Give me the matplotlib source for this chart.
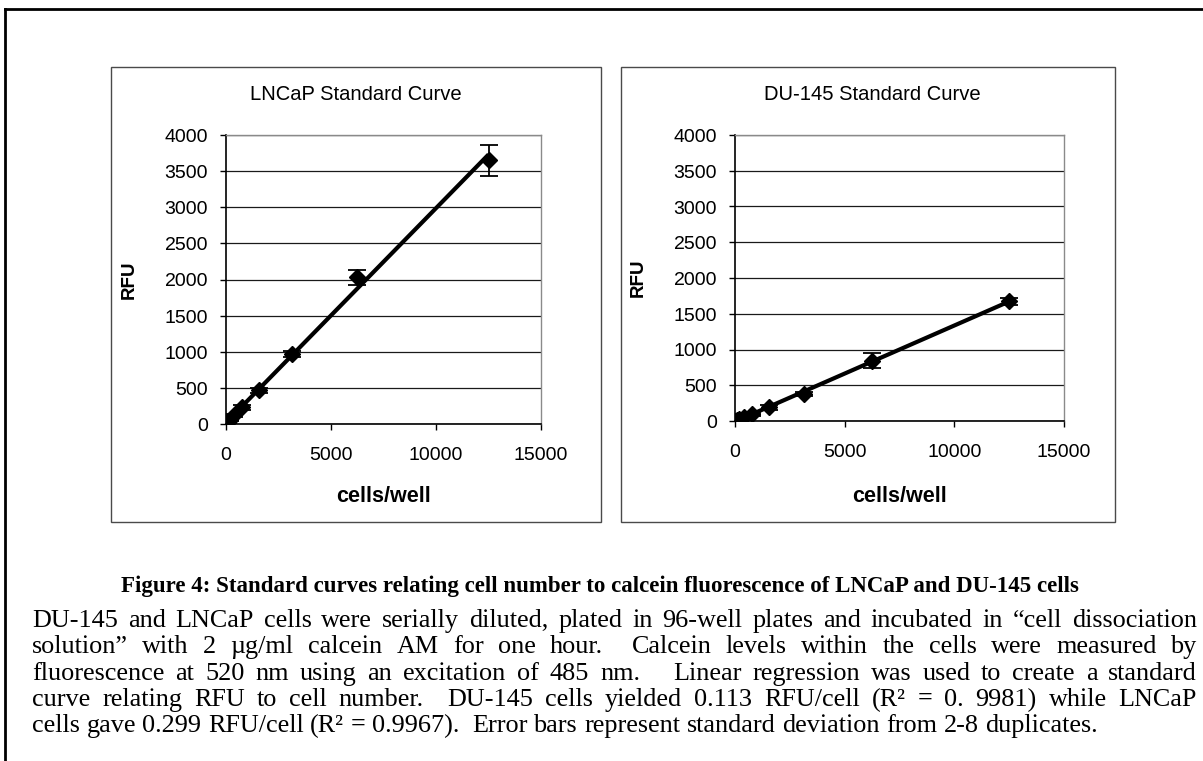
import numpy as np
import matplotlib
matplotlib.use("Agg")
import matplotlib.pyplot as plt
from matplotlib.font_manager import FontProperties
from matplotlib.lines import Line2D
from matplotlib.patches import Rectangle

# TrueType hinting keeps glyph outlines on the pixel grid vertically
plt.rcParams["text.hinting"] = "native"

# ---- data -------------------------------------------------------------
cells_per_well = [0, 98, 195, 391, 781, 1563, 3125, 6250, 12500]

lncap_rfu = [0, 30, 60, 120, 230, 470, 965, 2030, 3650]
lncap_sd = [5, 10, 15, 20, 30, 35, 40, 100, 215]

du145_rfu = [0, 12, 25, 50, 95, 190, 375, 845, 1675]
du145_sd = [5, 8, 10, 15, 20, 30, 30, 105, 50]

y_ticks = [0, 500, 1000, 1500, 2000, 2500, 3000, 3500, 4000]
x_ticks = [0, 5000, 10000, 15000]

panel_titles = ["LNCaP Standard Curve", "DU-145 Standard Curve"]
x_label = "cells/well"
y_label = "RFU"

caption_title = ("Figure 4: Standard curves relating cell number to calcein "
                 "fluorescence of LNCaP and DU-145 cells")
caption_lines = [
    "DU-145 and LNCaP cells were serially diluted, plated in 96-well plates "
    "and incubated in \u201ccell dissociation",
    "solution\u201d with 2 \u00b5g/ml calcein AM for one hour.  Calcein levels "
    "within the cells were measured by",
    "fluorescence at 520 nm using an excitation of 485 nm.   Linear regression "
    "was used to create a standard",
    "curve relating RFU to cell number.  DU-145 cells yielded 0.113 RFU/cell "
    "(R\u00b2 = 0. 9981) while LNCaP",
    "cells gave 0.299 RFU/cell (R\u00b2 = 0.9967).  Error bars represent "
    "standard deviation from 2-8 duplicates.",
]

# ---- figure -----------------------------------------------------------
W, H = 1203, 761
fig = plt.figure(figsize=(W / 100, H / 100), dpi=100)
fig.patch.set_facecolor("white")


def fx(px):
    return px / W


def fy(py):
    return 1 - py / H


sans = "Liberation Sans"
serif = "Liberation Serif"

# page frame (left and top rules)
fig.add_artist(Line2D([fx(5), fx(5)], [fy(9), fy(H)], color="black", lw=2))
fig.add_artist(Line2D([fx(5), fx(W)], [fy(9), fy(9)], color="black", lw=2))

# chart panel boxes
for (x0, x1) in [(111, 601), (621, 1115)]:
    fig.add_artist(Rectangle((fx(x0), fy(522)), fx(x1) - fx(x0), fy(67) - fy(522),
                             fill=False, edgecolor="#4a4a4a", lw=1.0))

axes_px = [(226, 541, 135, 424), (735, 1064, 135, 421)]
series = [(lncap_rfu, lncap_sd), (du145_rfu, du145_sd)]
title_x = [356, 872]

for (l, r, t, b), (rfu, sd), title, tx in zip(axes_px, series, panel_titles, title_x):
    ax = fig.add_axes([fx(l), fy(b), fx(r) - fx(l), fy(t) - fy(b)])
    x = np.array(cells_per_well, dtype=float)
    y = np.array(rfu, dtype=float)

    ax.errorbar(x, y, yerr=sd, fmt="none", ecolor="black", elinewidth=1.3,
                capsize=6.5, capthick=1.3, zorder=3)
    ax.plot(x, y, linestyle="none", marker="D", markersize=8.5,
            color="black", zorder=4)

    # linear regression trendline over the data range
    slope, intercept = np.polyfit(x, y, 1)
    xs = np.array([x.min(), x.max()])
    ax.plot(xs, slope * xs + intercept, color="black", lw=3.0,
            solid_capstyle="butt", zorder=5)

    ax.set_xlim(0, 15000)
    ax.set_ylim(0, 4000)
    ax.set_xticks(x_ticks)
    ax.set_yticks(y_ticks)
    ax.set_xticklabels([str(v) for v in x_ticks], fontsize=14, family=sans)
    ax.set_yticklabels([str(v) for v in y_ticks], fontsize=14, family=sans)
    ax.tick_params(axis="x", direction="out", length=4, width=1, pad=12, colors="black")
    ax.tick_params(axis="y", direction="out", length=4, width=1, pad=9, colors="black")

    ax.yaxis.grid(True, color="#1a1a1a", lw=0.9)
    ax.set_axisbelow(True)
    for side in ("left", "bottom"):
        ax.spines[side].set_color("black")
        ax.spines[side].set_linewidth(1.2)
    for side in ("top", "right"):
        ax.spines[side].set_color("#8a8a8a")
        ax.spines[side].set_linewidth(1.0)

    ax.set_xlabel(x_label, fontsize=15.5, fontweight="bold", family=sans)
    ax.set_ylabel(y_label, fontsize=13.5, fontweight="bold", family=sans)
    ax.xaxis.set_label_coords(0.5, (b - 486) / (b - t))
    ax.yaxis.set_label_coords(-88 / (r - l), 0.5)

    fig.text(fx(tx), fy(95), title, ha="center", va="center",
             fontsize=14.5, family=sans)

# ---- caption ----------------------------------------------------------
fig.text(fx(600), fy(592), caption_title, ha="center", va="baseline",
         fontsize=16.5, fontweight="bold", family=serif)

renderer = fig.canvas.get_renderer()
left_px, right_px = 32, 1197
baselines = [627, 653, 680, 706, 732]
body_prop = FontProperties(family=serif, size=18.8)


def text_width(s):
    t = fig.text(0, 0, s, fontproperties=body_prop)
    w = t.get_window_extent(renderer).width
    t.remove()
    return w


space_w = text_width("a a") - text_width("aa")


def split_words(text):
    # words separated by runs of spaces; a longer run gives a wider gap
    words, gaps = [], []
    pending = 0
    for tok in text.split(" "):
        if tok == "":
            pending += 1
            continue
        if words:
            gaps.append(1 + pending)
        pending = 0
        words.append(tok)
    return words, gaps


def draw_line(text, base, justify):
    words, gaps = split_words(text)
    widths = [text_width(w) for w in words]
    if justify and gaps:
        unit = (right_px - left_px - sum(widths)) / sum(gaps)
    else:
        unit = space_w
    cur = left_px
    for i, (w, wd) in enumerate(zip(words, widths)):
        fig.text(fx(cur), fy(base), w, ha="left", va="baseline",
                 fontproperties=body_prop)
        cur += wd
        if i < len(gaps):
            cur += unit * gaps[i]


for i, (line, base) in enumerate(zip(caption_lines, baselines)):
    draw_line(line, base, justify=(i < len(caption_lines) - 1))

fig.savefig("out.png", dpi=100, facecolor="white")
